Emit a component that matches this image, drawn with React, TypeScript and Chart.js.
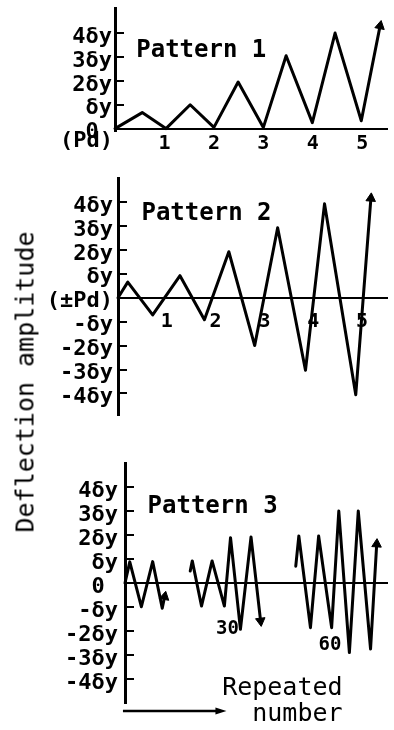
import React, { useEffect, useRef } from 'react';
import { Chart, registerables } from 'chart.js';

Chart.register(...registerables);

const FONT = "'DejaVu Sans Mono', monospace";

// ---------- Pattern 1 (x: cycles, y: multiples of δy) ----------
const P1_CYCLES = [0, 0.55, 1.03, 1.52, 2.0, 2.49, 3.0, 3.46, 3.99, 4.45, 4.98, 5.36];
const P1_AMPLITUDE = [0, 0.67, 0, 1.0, 0.05, 1.95, 0.05, 3.05, 0.25, 4.0, 0.33, 4.3];
const P1_Y_TICKS = [0, 1, 2, 3, 4];
const P1_Y_LABELS = ['0 ', 'δy', '2δy', '3δy', '4δy'];
const P1_X_TICKS = [1, 2, 3, 4, 5];
const P1_X_LABELS = ['1', '2', '3', '4', '5'];

// ---------- Pattern 2 ----------
const P2_CYCLES = [0, 0.2, 0.71, 1.27, 1.77, 2.27, 2.8, 3.27, 3.84, 4.23, 4.87, 5.18];
const P2_AMPLITUDE = [0, 0.65, -0.72, 0.92, -0.92, 1.92, -2.0, 2.92, -3.03, 3.92, -4.05, 4.15];
const P2_Y_TICKS = [-4, -3, -2, -1, 0, 1, 2, 3, 4];
const P2_Y_LABELS = ['-4δy', '-3δy', '-2δy', '-δy', '(±Pd)', 'δy', '2δy', '3δy', '4δy'];
const P2_X_TICKS = [1, 2, 3, 4, 5];
const P2_X_LABELS = ['1', '2', '3', '4', '5'];

// ---------- Pattern 3 (x: repeated number) ----------
const P3_SEG1_N = [0, 1.4, 4.8, 8.1, 10.9, 11.6];
const P3_SEG1_AMP = [0, 0.88, -0.99, 0.89, -1.05, -0.57];
const P3_SEG2_N = [19.1, 19.7, 22.4, 25.5, 29.1, 30.9, 33.8, 36.9, 39.7];
const P3_SEG2_AMP = [0.5, 0.92, -0.96, 0.92, -0.96, 1.89, -1.93, 1.92, -1.58];
const P3_SEG3_N = [50.0, 50.9, 54.3, 56.7, 60.5, 62.6, 65.7, 68.3, 71.9, 73.7];
const P3_SEG3_AMP = [0.7, 1.96, -1.86, 1.96, -1.86, 3.0, -2.9, 3.0, -2.75, 1.62];
const P3_Y_TICKS = [-4, -3, -2, -1, 0, 1, 2, 3, 4];
const P3_Y_LABELS = ['-4δy', '-3δy', '-2δy', '-δy', '0 ', 'δy', '2δy', '3δy', '4δy'];
const P3_X_TICKS = [30, 60];
const P3_X_LABELS = ['30', '60'];

const toPoints = (xs: number[], ys: number[]) => xs.map((x, i) => ({ x, y: ys[i] }));

// arrow head orientation along the last segment (pixel space)
const arrowRotation = (ctx: any) => {
  const data = ctx.dataset.data as { x: number; y: number }[];
  const i = ctx.dataIndex;
  if (i < 1) return 0;
  const xs = ctx.chart.scales.x;
  const ys = ctx.chart.scales.y;
  const a = data[i - 1];
  const b = data[i];
  const dx = xs.getPixelForValue(b.x) - xs.getPixelForValue(a.x);
  const dy = ys.getPixelForValue(b.y) - ys.getPixelForValue(a.y);
  return (Math.atan2(dx, -dy) * 180) / Math.PI;
};

const lineDataset = (pts: { x: number; y: number }[]) => ({
  data: pts,
  borderColor: '#000',
  borderWidth: 3,
  tension: 0,
  borderJoinStyle: 'round',
  borderCapStyle: 'round',
  clip: false,
  pointStyle: 'triangle',
  pointRadius: (ctx: any) => (ctx.dataIndex === ctx.dataset.data.length - 1 ? 5.5 : 0),
  pointHoverRadius: 0,
  pointRotation: arrowRotation,
  pointBackgroundColor: '#000',
  pointBorderColor: '#000',
  pointBorderWidth: 1,
});

type Note = { text: string; x: number; y: number; font: string; align: CanvasTextAlign };
type Arrow = { x1: number; x2: number; y: number };

const makeNotesPlugin = (notes: Note[], arrows: Arrow[]) => ({
  id: 'notes',
  afterDraw(chart: any) {
    const { ctx } = chart;
    const xs = chart.scales.x;
    const ys = chart.scales.y;
    ctx.save();
    ctx.fillStyle = '#000';
    ctx.strokeStyle = '#000';
    ctx.textBaseline = 'alphabetic';
    notes.forEach((n) => {
      ctx.font = n.font;
      ctx.textAlign = n.align;
      ctx.fillText(n.text, xs.getPixelForValue(n.x), ys.getPixelForValue(n.y));
    });
    arrows.forEach((a) => {
      const x1 = xs.getPixelForValue(a.x1);
      const x2 = xs.getPixelForValue(a.x2);
      const y = ys.getPixelForValue(a.y);
      ctx.lineWidth = 2.5;
      ctx.beginPath();
      ctx.moveTo(x1, y);
      ctx.lineTo(x2 - 6, y);
      ctx.stroke();
      ctx.beginPath();
      ctx.moveTo(x2, y);
      ctx.lineTo(x2 - 11, y - 3.5);
      ctx.lineTo(x2 - 11, y + 3.5);
      ctx.closePath();
      ctx.fill();
    });
    ctx.restore();
  },
});

type PanelSpec = {
  xMin: number;
  xMax: number;
  yMin: number;
  yMax: number;
  yTicks: number[];
  yLabels: string[];
  xTicks: number[];
  xLabels: string[];
  xLabelFn?: (label: string, i: number) => string | string[];
  yWidth: number;
  padTop: number;
  padBottom: number;
  yPad: number;
  xPad: number;
  xFont: any;
  datasets: any[];
  notes: Note[];
  arrows: Arrow[];
};

const buildConfig = (p: PanelSpec): any => ({
  type: 'line',
  data: { datasets: p.datasets },
  plugins: [makeNotesPlugin(p.notes, p.arrows)],
  options: {
    responsive: false,
    animation: false,
    events: [],
    layout: { padding: { top: p.padTop, bottom: p.padBottom, left: 0, right: 0 } },
    plugins: { legend: { display: false }, tooltip: { enabled: false }, title: { display: false } },
    scales: {
      x: {
        type: 'linear',
        min: p.xMin,
        max: p.xMax,
        position: { y: 0 },
        grid: { display: false, drawTicks: false },
        border: { display: true, color: '#000', width: 2 },
        afterBuildTicks: (s: any) => {
          s.ticks = p.xTicks.map((v) => ({ value: v }));
        },
        afterFit: (s: any) => {
          s.paddingLeft = 0;
          s.paddingRight = 0;
        },
        ticks: {
          autoSkip: false,
          maxRotation: 0,
          color: '#000',
          padding: p.xPad,
          font: p.xFont,
          callback: (v: number) => {
            const i = p.xTicks.indexOf(v);
            if (i < 0) return '';
            return p.xLabelFn ? p.xLabelFn(p.xLabels[i], i) : p.xLabels[i];
          },
        },
      },
      y: {
        type: 'linear',
        min: p.yMin,
        max: p.yMax,
        position: 'left',
        grid: {
          display: true,
          drawOnChartArea: false,
          drawTicks: true,
          tickLength: -9,
          color: '#000',
          lineWidth: 2,
        },
        border: { display: true, color: '#000', width: 3 },
        afterBuildTicks: (s: any) => {
          s.ticks = p.yTicks.map((v) => ({ value: v }));
        },
        afterFit: (s: any) => {
          s.width = p.yWidth;
          s.paddingTop = 0;
          s.paddingBottom = 0;
        },
        ticks: {
          autoSkip: false,
          color: '#000',
          padding: p.yPad,
          labelOffset: 4,
          font: { family: FONT, size: 22, weight: 'bold', lineHeight: 1 },
          callback: (v: number) => {
            const i = p.yTicks.indexOf(v);
            return i < 0 ? '' : p.yLabels[i];
          },
        },
      },
    },
  },
});

const TITLE_FONT = `bold 24px ${FONT}`;

const panel1 = (): PanelSpec => ({
  xMin: 0,
  xMax: 5.51,
  yMin: -0.1,
  yMax: 5.05,
  yTicks: P1_Y_TICKS,
  yLabels: P1_Y_LABELS,
  xTicks: P1_X_TICKS,
  xLabels: P1_X_LABELS,
  yWidth: 115,
  padTop: 8,
  padBottom: 29,
  yPad: 12,
  xPad: 3,
  xFont: { family: FONT, size: 20, weight: 'bold', lineHeight: 1.2 },
  datasets: [lineDataset(toPoints(P1_CYCLES, P1_AMPLITUDE))],
  notes: [
    { text: 'Pattern 1', x: 0.43, y: 3.0, font: TITLE_FONT, align: 'left' },
    { text: '(Pd)', x: -0.04, y: -0.75, font: `bold 22px ${FONT}`, align: 'right' },
  ],
  arrows: [],
});

const panel2 = (): PanelSpec => ({
  xMin: 0,
  xMax: 5.52,
  yMin: -4.9,
  yMax: 5.0,
  yTicks: P2_Y_TICKS,
  yLabels: P2_Y_LABELS,
  xTicks: P2_X_TICKS,
  xLabels: P2_X_LABELS,
  yWidth: 118,
  padTop: 18,
  padBottom: 25,
  yPad: 14,
  xPad: 12,
  xFont: { family: FONT, size: 20, weight: 'bold', lineHeight: 1.2 },
  datasets: [lineDataset(toPoints(P2_CYCLES, P2_AMPLITUDE))],
  notes: [{ text: 'Pattern 2', x: 0.48, y: 3.25, font: TITLE_FONT, align: 'left' }],
  arrows: [],
});

const panel3 = (): PanelSpec => ({
  xMin: 0,
  xMax: 76.86,
  yMin: -5,
  yMax: 5,
  yTicks: P3_Y_TICKS,
  yLabels: P3_Y_LABELS,
  xTicks: P3_X_TICKS,
  xLabels: P3_X_LABELS,
  xLabelFn: (label, i) => (i === 1 ? ['', label] : label),
  yWidth: 125,
  padTop: 23,
  padBottom: 27,
  yPad: 16,
  xPad: 38,
  xFont: { family: FONT, size: 19, weight: 'bold', lineHeight: '16px' },
  datasets: [
    lineDataset(toPoints(P3_SEG1_N, P3_SEG1_AMP)),
    lineDataset(toPoints(P3_SEG2_N, P3_SEG2_AMP)),
    lineDataset(toPoints(P3_SEG3_N, P3_SEG3_AMP)),
  ],
  notes: [
    { text: 'Pattern 3', x: 6.6, y: 2.92, font: TITLE_FONT, align: 'left' },
    { text: 'Repeated', x: 63.7, y: -4.67, font: `25px ${FONT}`, align: 'right' },
    { text: 'number', x: 63.7, y: -5.74, font: `25px ${FONT}`, align: 'right' },
  ],
  arrows: [{ x1: -0.6, x2: 29.7, y: -5.33 }],
});

function Panel({ top, height, spec }: { top: number; height: number; spec: () => PanelSpec }) {
  const ref = useRef<HTMLCanvasElement | null>(null);
  useEffect(() => {
    if (!ref.current) return;
    const chart = new Chart(ref.current, buildConfig(spec()));
    return () => chart.destroy();
  }, []);
  return (
    <canvas
      ref={ref}
      width={394}
      height={height}
      style={{ position: 'absolute', left: 0, top, width: 394, height, display: 'block' }}
    />
  );
}

export default function App() {
  return (
    <div
      style={{
        position: 'absolute',
        left: 0,
        top: 0,
        width: 394,
        height: 730,
        background: '#fff',
        overflow: 'hidden',
        fontFamily: FONT,
        color: '#000',
      }}
    >
      <Panel top={0} height={160} spec={panel1} />
      <Panel top={160} height={280} spec={panel2} />
      <Panel top={440} height={290} spec={panel3} />
      <div
        style={{
          position: 'absolute',
          left: 25,
          top: 382,
          transform: 'translate(-50%, -50%) rotate(-90deg)',
          whiteSpace: 'nowrap',
          fontSize: 25,
          lineHeight: 1,
        }}
      >
        Deflection amplitude
      </div>
    </div>
  );
}
